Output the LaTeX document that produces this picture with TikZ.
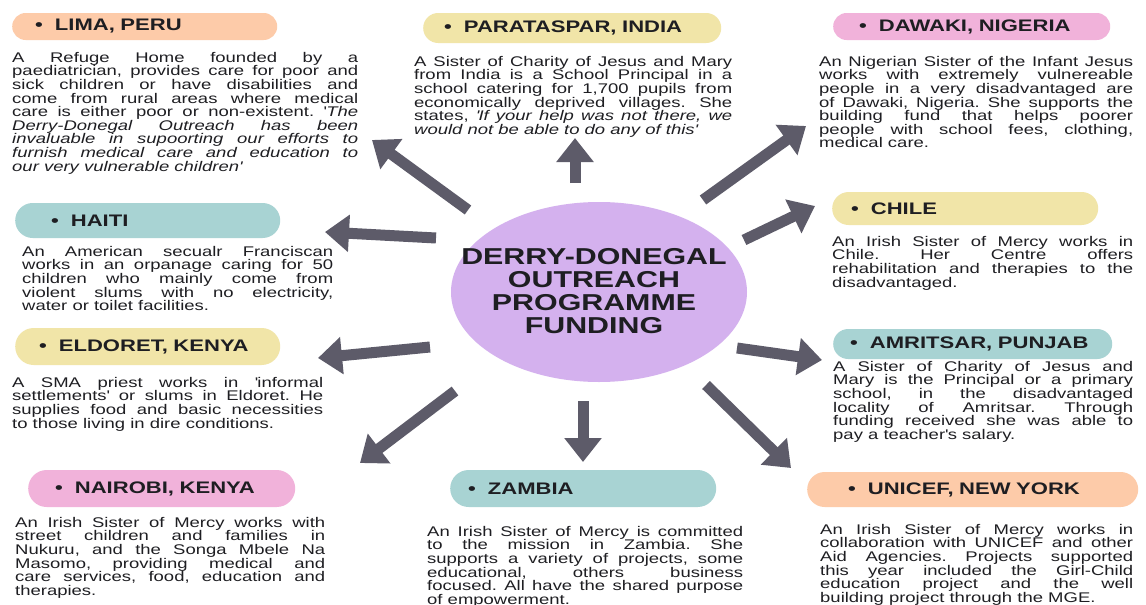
\documentclass[tikz,border=0pt]{standalone}
\usepackage{fontspec}
\setmainfont[FakeStretch=1.32]{Liberation Sans}
\usetikzlibrary{arrows.meta,shapes.geometric}

\definecolor{peach}{HTML}{FDCBA9}
\definecolor{straw}{HTML}{F1E5A8}
\definecolor{rose}{HTML}{F1B2DA}
\definecolor{sea}{HTML}{A8D3D3}
\definecolor{lilac}{HTML}{D4B1EE}
\definecolor{spokegray}{HTML}{5D5B69}
\definecolor{ink}{HTML}{1E1E22}

\tolerance=10000
\hbadness=10000
\hyphenpenalty=10000
\frenchspacing
\newcommand{\qt}{\textquotesingle}
\newcommand{\dotlead}{\textbullet\hspace{12pt}}

\tikzset{
  hub/.style={ellipse, fill=lilac, minimum width=296pt, minimum height=180pt, inner sep=0pt},
  title/.style={align=center, inner sep=0pt, text=ink, font=\fontsize{23}{23}\selectfont\bfseries},
  pill/.style={anchor=west, inner ysep=0pt, align=left, text=ink, font=\fontsize{16.7}{18}\selectfont\bfseries},
  blurb/.style={anchor=north west, inner sep=0pt, align=justify, text=ink, font=\fontsize{14}{13.6}\selectfont},
  spoke/.style={line width=11pt, spokegray, -{Triangle[length=24pt,width=36pt]}}
}

\begin{document}
\begin{tikzpicture}[x=1pt, y=-1pt]
\useasboundingbox[fill=white] (0,0) rectangle (1146,605);

% centre
\node[hub] (hub) at (599,292) {};
\node[title] (title) at (594,291) {DERRY-DONEGAL\\OUTREACH\\PROGRAMME\\FUNDING};

% headings
\node[pill, fill=peach, minimum height=27pt, rounded corners=13.5pt, inner xsep=23pt, text width=219pt] (lima) at (12,26.5) {\dotlead LIMA, PERU};
\node[pill, fill=straw, minimum height=30pt, rounded corners=15pt, inner xsep=21pt, text width=256pt] (india) at (423,28) {\dotlead PARATASPAR, INDIA};
\node[pill, fill=rose, minimum height=27pt, rounded corners=13.5pt, inner xsep=26pt, text width=225pt] (dawaki) at (833,26.5) {\dotlead DAWAKI, NIGERIA};
\node[pill, fill=sea, minimum height=35pt, rounded corners=17.5pt, inner xsep=36pt, text width=193pt] (haiti) at (15,220.5) {\dotlead HAITI};
\node[pill, fill=straw, minimum height=37pt, rounded corners=18.5pt, inner xsep=24pt, text width=217pt] (eldoret) at (15,346.5) {\dotlead ELDORET, KENYA};
\node[pill, fill=rose, minimum height=37pt, rounded corners=18.5pt, inner xsep=27pt, text width=213pt] (nairobi) at (28,488.5) {\dotlead NAIROBI, KENYA};
\node[pill, fill=sea, minimum height=37pt, rounded corners=18.5pt, inner xsep=18pt, text width=230pt] (zambia) at (450,488.5) {\dotlead ZAMBIA};
\node[pill, fill=peach, minimum height=35pt, rounded corners=17.5pt, inner xsep=41pt, text width=249pt] (unicef) at (807,489.5) {\dotlead UNICEF, NEW YORK};
\node[pill, fill=straw, minimum height=33pt, rounded corners=16.5pt, inner xsep=19pt, text width=228pt] (chile) at (832,208.5) {\dotlead CHILE};
\node[pill, fill=sea, minimum height=30pt, rounded corners=15pt, inner xsep=17pt, text width=245pt] (amritsar) at (833,344) {\dotlead AMRITSAR, PUNJAB};

% texts
\node[blurb, text width=346pt] (limatext) at (12,52) {A Refuge Home founded by a\linebreak
paediatrician, provides care for poor and\linebreak
sick children or have disabilities and\linebreak
come from rural areas where medical\linebreak
care is either poor or non-existent. \qt\textit{The\linebreak
Derry-Donegal Outreach has been\linebreak
invaluable in supoorting our efforts to\linebreak
furnish medical care and education to\linebreak
our very vulnerable children\qt}};
\node[blurb, text width=318pt] (indiatext) at (414,56) {A Sister of Charity of Jesus and Mary\linebreak
from India is a School Principal in a\linebreak
school catering for 1,700 pupils from\linebreak
economically deprived villages. She\linebreak
states, \textit{\qt If your help was not there, we\linebreak
would not be able to do any of this\qt}};
\node[blurb, text width=314pt] (dawakitext) at (819,56) {An Nigerian Sister of the Infant Jesus\linebreak
works with extremely vulnereable\linebreak
people in a very disadvantaged are\linebreak
of Dawaki, Nigeria. She supports the\linebreak
building fund that helps poorer\linebreak
people with school fees, clothing,\linebreak
medical care.};
\node[blurb, text width=311pt] (haititext) at (22,246) {An American secualr Franciscan\linebreak
works in an orpanage caring for 50\linebreak
children who mainly come from\linebreak
violent slums with no electricity,\linebreak
water or toilet facilities.};
\node[blurb, text width=311pt] (eldorettext) at (12,377) {A SMA priest works in \qt informal\linebreak
settlements\qt{} or slums in Eldoret. He\linebreak
supplies food and basic necessities\linebreak
to those living in dire conditions.};
\node[blurb, text width=310pt] (nairobitext) at (15,517) {An Irish Sister of Mercy works with\linebreak
street children and families in\linebreak
Nukuru, and the Songa Mbele Na\linebreak
Masomo, providing medical and\linebreak
care services, food, education and\linebreak
therapies.};
\node[blurb, text width=316pt] (zambiatext) at (427,526) {An Irish Sister of Mercy is committed\linebreak
to the mission in Zambia. She\linebreak
supports a variety of projects, some\linebreak
educational, others business\linebreak
focused. All have the shared purpose\linebreak
of empowerment.};
\node[blurb, text width=313pt] (uniceftext) at (820,524) {An Irish Sister of Mercy works in\linebreak
collaboration with UNICEF and other\linebreak
Aid Agencies. Projects supported\linebreak
this year included the Girl-Child\linebreak
education project and the well\linebreak
building project through the MGE.};
\node[blurb, text width=301pt] (chiletext) at (832,236) {An Irish Sister of Mercy works in\linebreak
Chile. Her Centre offers\linebreak
rehabilitation and therapies to the\linebreak
disadvantaged.};
\node[blurb, text width=300pt] (amritsartext) at (833,361) {A Sister of Charity of Jesus and\linebreak
Mary is the Principal or a primary\linebreak
school, in the disadvantaged\linebreak
locality of Amritsar. Through\linebreak
funding received she was able to\linebreak
pay a teacher\qt s salary.};

% arrows
\coordinate (l0) at (468,210); \coordinate (l1) at (372,140);
\coordinate (i0) at (575,183); \coordinate (i1) at (575,138);
\coordinate (d0) at (703,200); \coordinate (d1) at (806,126);
\coordinate (c0) at (744,240); \coordinate (c1) at (815,206);
\coordinate (h0) at (436,238); \coordinate (h1) at (325,232);
\coordinate (e0) at (430,347); \coordinate (e1) at (318,358);
\coordinate (n0) at (455,391); \coordinate (n1) at (360,463);
\coordinate (z0) at (583,401); \coordinate (z1) at (583,462);
\coordinate (a0) at (737,348); \coordinate (a1) at (822,360);
\coordinate (u0) at (706,385); \coordinate (u1) at (791,468);
\draw[spoke] (l0) -- (l1);
\draw[spoke] (i0) -- (i1);
\draw[spoke] (d0) -- (d1);
\draw[spoke] (c0) -- (c1);
\draw[spoke] (h0) -- (h1);
\draw[spoke] (e0) -- (e1);
\draw[spoke] (n0) -- (n1);
\draw[spoke] (z0) -- (z1);
\draw[spoke] (a0) -- (a1);
\draw[spoke] (u0) -- (u1);
\end{tikzpicture}
\end{document}
